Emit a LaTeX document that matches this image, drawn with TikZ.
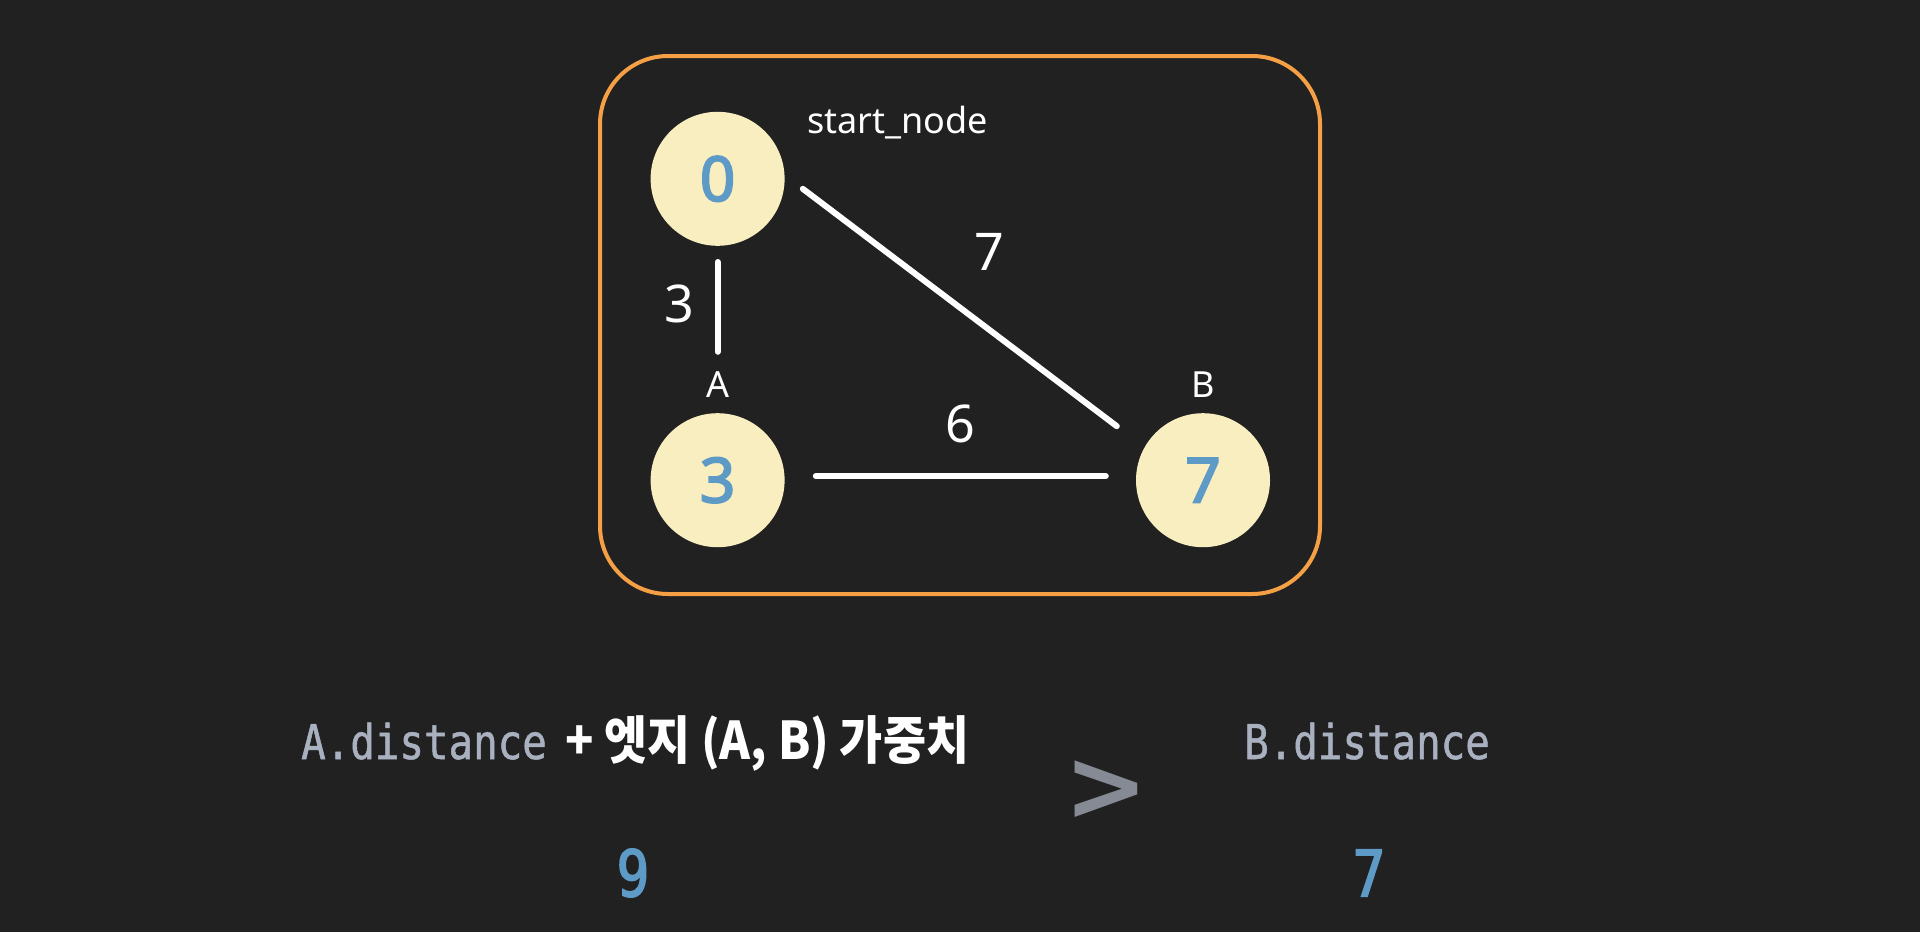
\documentclass[tikz,border=0pt]{standalone}
\usepackage{fontspec}
\setmainfont{Noto Sans}
\newfontfamily\digitfont{Noto Sans}[FakeBold=3]
\newfontfamily\krfont{Noto Sans CJK KR}[FakeStretch=0.9]
\newfontfamily\codefont{DejaVu Sans Mono}[FakeStretch=0.85, FakeBold=1]
\newfontfamily\resultfont{DejaVu Sans Mono}[FakeStretch=0.85, FakeBold=2.5]
\newfontfamily\cmpfont{DejaVu Sans}
\usetikzlibrary{positioning, calc}

\definecolor{bgdark}{HTML}{212121}
\definecolor{nodefill}{HTML}{F9EEC0}
\definecolor{numblue}{HTML}{5E9AC6}
\definecolor{frameorange}{HTML}{F6A046}
\definecolor{codegray}{HTML}{A9B1C0}
\definecolor{cmpgray}{HTML}{868A94}

\begin{document}
\begin{tikzpicture}[x=1pt, y=-1pt, node distance=167pt,
    vertex/.style={circle, fill=nodefill, minimum size=134pt, inner sep=0pt, text=numblue, font=\digitfont\fontsize{62}{62}\selectfont},
    edge/.style={draw=white, line width=6pt, line cap=round},
    weight/.style={text=white, inner sep=0pt, font=\fontsize{52}{52}\selectfont},
    tag/.style={text=white, inner sep=0pt, font=\fontsize{36}{36}\selectfont},
    code/.style={text=codegray, inner sep=0pt, font=\codefont\fontsize{48}{48}\selectfont},
    result/.style={text=numblue, inner sep=0pt, font=\resultfont\fontsize{64}{64}\selectfont}]
    \fill[bgdark] (0,0) rectangle (1920,932);
    \draw[frameorange, line width=4pt, rounded corners=68pt] (600,56) rectangle (1320,594);

    % graph
    \node[vertex] (zero) at (717.6,178.8) {0};
    \node[vertex, below=of zero] (A) {3};
    \node[vertex, right=351pt of A] (B) {7};
    \node[tag] (start) at (897.6,122.5) {start\_node};
    \node[tag, above=15pt of A] (labA) {A};
    \node[tag, above=15pt of B] (labB) {B};

    \draw[edge, shorten <=16pt, shorten >=20pt] (zero) -- (labA);
    \draw[edge] ($(zero.east)+(18,10)$) -- ($(B.west)+(-19,-54)$);
    \draw[edge] ($(A.east)+(31,-4)$) -- ($(B.west)+(-30,-4)$);

    \node[weight] (w1) at (679.6,303.7) {3};
    \node[weight] (w2) at (989,252) {7};
    \node[weight] (w3) at (960,423.7) {6};

    % comparison
    \node[code, anchor=base west] (adist) at (301,759) {A.distance};
    \node[text=white, inner sep=0pt, anchor=base west, font=\krfont\bfseries\fontsize{52}{52}\selectfont] (wsum) at (565,759) {+ 엣지 (A, B) 가중치};
    \node[text=cmpgray, inner sep=0pt, font=\cmpfont\bfseries\fontsize{100}{100}\selectfont] (gt) at (1106,791) {>};
    \node[code, anchor=base west] (bdist) at (1244,759) {B.distance};
    \node[result] (sumval) at (633,873) {9};
    \node[result] (bval) at (1369,873) {7};
\end{tikzpicture}
\end{document}
